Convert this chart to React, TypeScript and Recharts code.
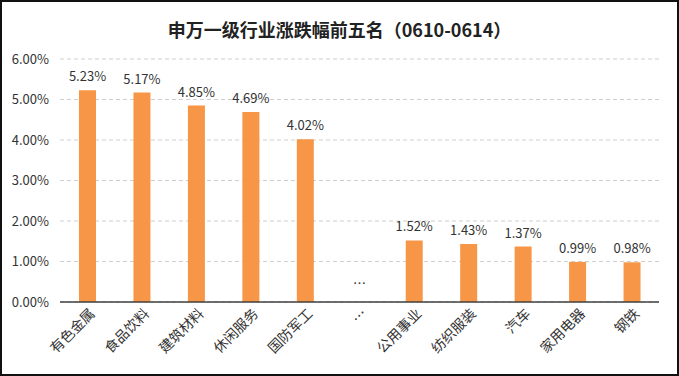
import { BarChart, Bar, XAxis, YAxis, CartesianGrid, LabelList, ReferenceDot } from 'recharts'

const industries = ['有色金属', '食品饮料', '建筑材料', '休闲服务', '国防军工', '…', '公用事业', '纺织服装', '汽车', '家用电器', '钢铁']
const changes = [5.23, 5.17, 4.85, 4.69, 4.02, 0, 1.52, 1.43, 1.37, 0.99, 0.98]
const valueLabels = ['5.23%', '5.17%', '4.85%', '4.69%', '4.02%', '…', '1.52%', '1.43%', '1.37%', '0.99%', '0.98%']
const yTicks = [0, 1, 2, 3, 4, 5, 6]

const data = industries.map((name, i) => ({ name, value: changes[i], label: valueLabels[i] }))
// zero-height bars get no label from LabelList, so mark them with a dot label
const gaps = data.filter((d) => d.value === 0)

const FONT = '"Noto Sans CJK SC", "Noto Sans", sans-serif'

function RotatedTick(props: any) {
  const { x, y, payload } = props
  return (
    <g transform={`translate(${x},${y})`}>
      <text
        x={0}
        y={0}
        dy={12}
        textAnchor="end"
        transform="rotate(-45)"
        fontSize={14}
        fill="#333"
        fontFamily={FONT}
      >
        {payload.value}
      </text>
    </g>
  )
}

function ValueLabel(props: any) {
  const { x, y, width, height, value } = props
  const top = Math.min(y, y + height)
  return (
    <text x={x + width / 2} y={top - 9} textAnchor="middle" fontSize={13} fill="#333" fontFamily={FONT}>
      {value}
    </text>
  )
}

export default function App() {
  return (
    <div style={{ position: 'relative', width: 679, height: 376, background: '#fff', fontFamily: FONT }}>
      <style>{'body{margin:0}'}</style>
      <div
        style={{
          position: 'absolute',
          top: 16,
          left: 0,
          width: 679,
          textAlign: 'center',
          fontSize: 18,
          fontWeight: 600,
          color: '#222',
        }}
      >
        申万一级行业涨跌幅前五名（0610-0614）
      </div>
      <div style={{ position: 'absolute', left: 0, top: 0 }}>
        <BarChart width={679} height={376} data={data} margin={{ top: 59, right: 20, bottom: 44, left: 0 }}>
          <CartesianGrid vertical={false} stroke="#cfcfcf" strokeDasharray="4 3" />
          <XAxis
            dataKey="name"
            height={30}
            interval={0}
            tickLine={false}
            tickSize={0}
            tickMargin={4}
            axisLine={{ stroke: '#404040', strokeWidth: 1.5 }}
            tick={<RotatedTick />}
          />
          <YAxis
            width={60}
            domain={[0, 6]}
            ticks={yTicks}
            axisLine={false}
            tickLine={false}
            tickSize={0}
            tickMargin={11}
            tickFormatter={(v: number) => v.toFixed(2) + '%'}
            tick={{ fontSize: 13, fill: '#333', fontFamily: FONT }}
          />
          <Bar dataKey="value" fill="#F79646" barSize={17} isAnimationActive={false}>
            <LabelList dataKey="label" content={<ValueLabel />} />
          </Bar>
          {gaps.map((g) => (
            <ReferenceDot
              key={g.name}
              x={g.name}
              y={g.value}
              r={0}
              stroke="none"
              fill="none"
              label={{ value: g.label, position: 'top', offset: 14, fontSize: 13, fill: '#333', fontFamily: FONT }}
            />
          ))}
        </BarChart>
      </div>
      <div
        style={{
          position: 'absolute',
          left: 0,
          top: 0,
          width: 679,
          height: 376,
          boxSizing: 'border-box',
          border: '2px solid #111',
          pointerEvents: 'none',
        }}
      />
    </div>
  )
}
